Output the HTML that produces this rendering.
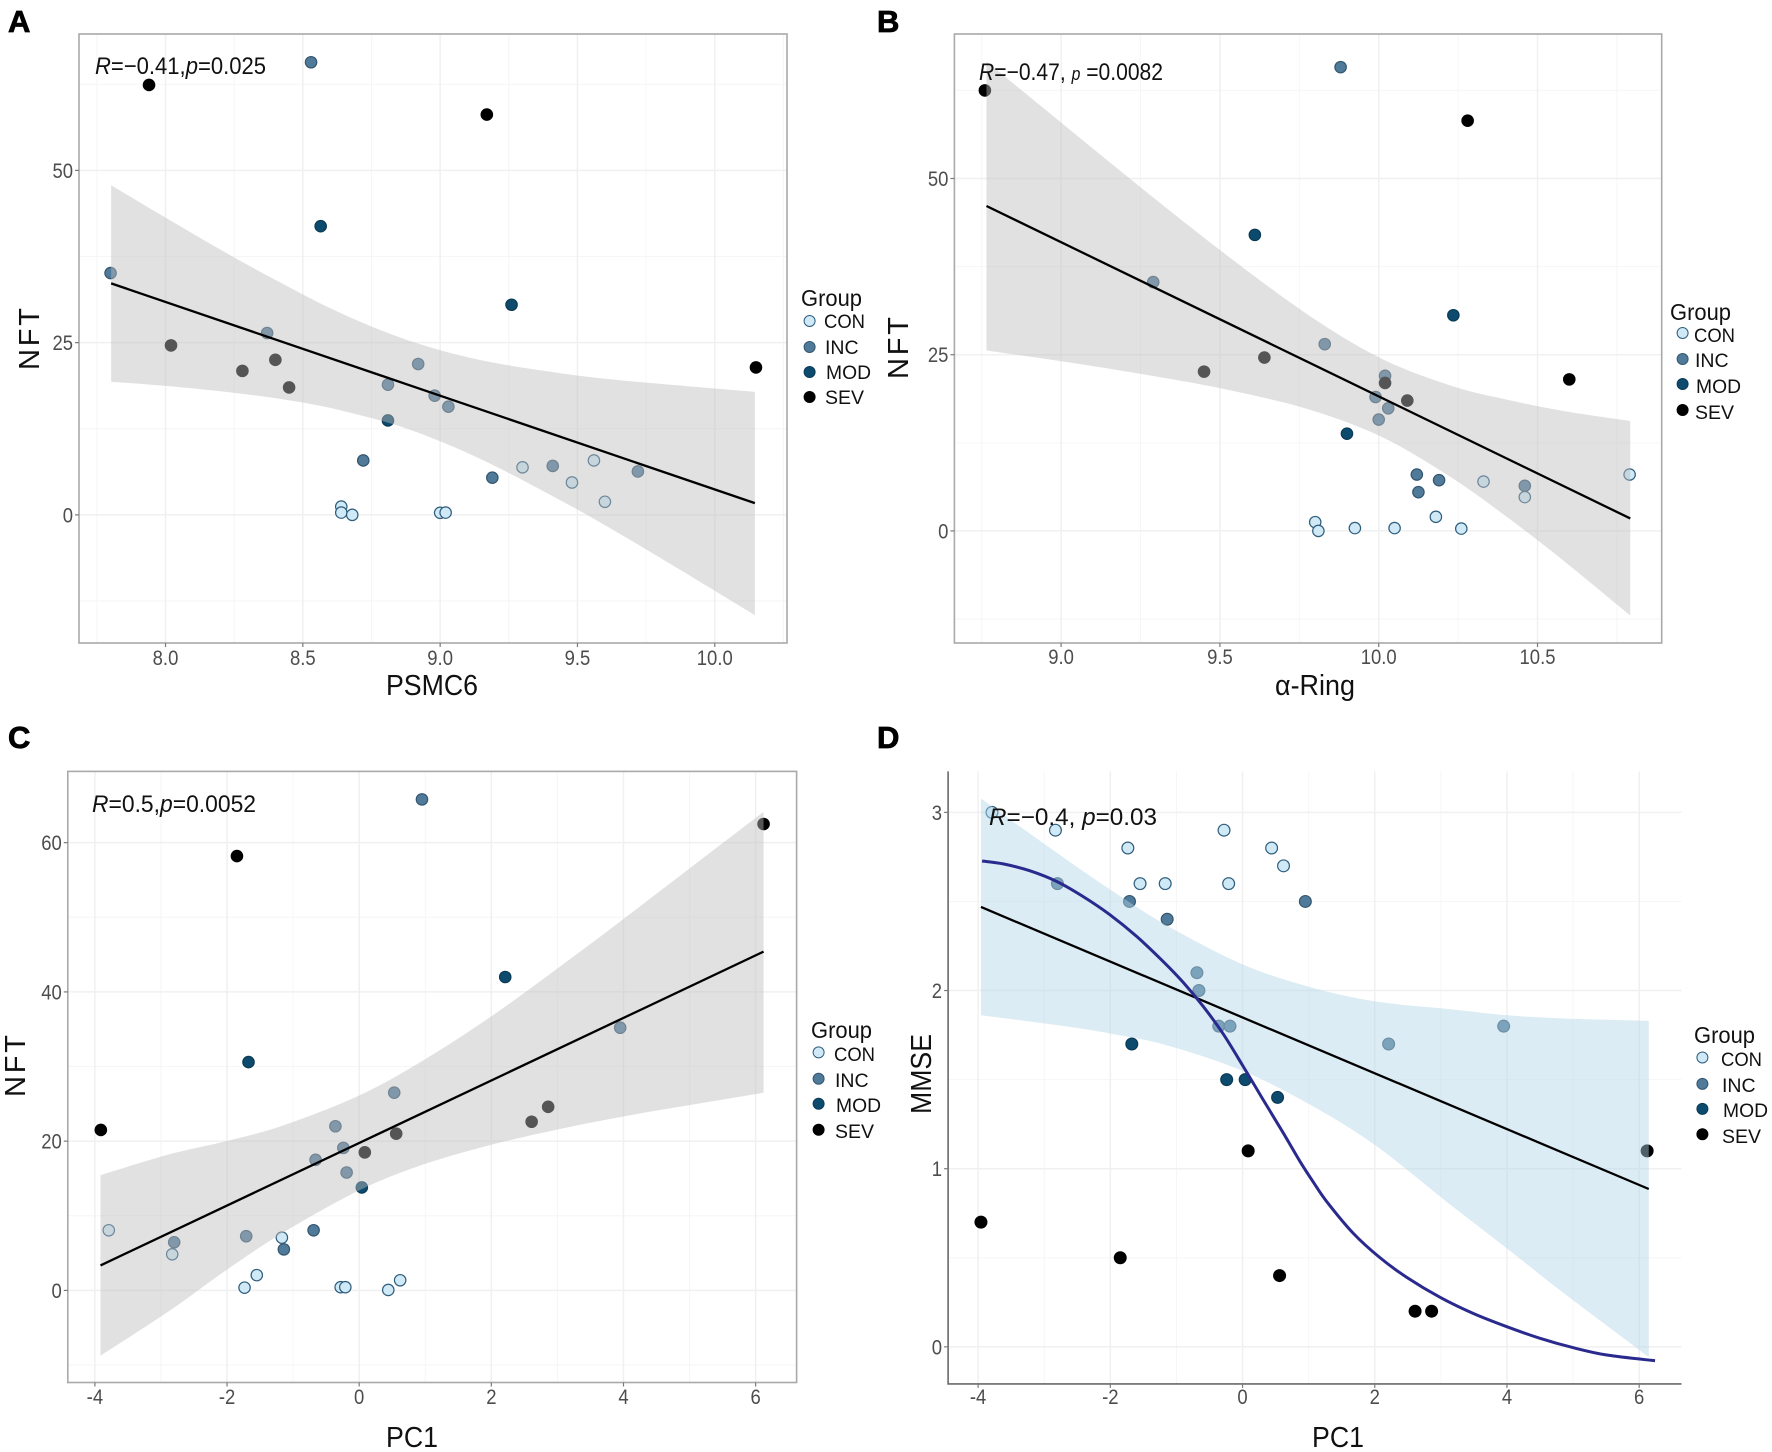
<!DOCTYPE html>
<html lang="en">
<head>
<meta charset="utf-8">
<title>NFT and MMSE correlation panels</title>
<style>
html,body{margin:0;padding:0;background:#fff;}
svg{display:block;}
text{font-family:"Liberation Sans",Arial,sans-serif;}
.tag{font-size:31px;font-weight:bold;fill:#000;stroke:#000;stroke-width:.8px;}
.axt{font-size:29px;fill:#111;}
.lgt{font-size:23px;fill:#111;}
.lgl{font-size:19.5px;fill:#111;}
.ann{font-size:24px;fill:#111;}
.ann tspan.i{font-style:italic;}
.tick{font-size:21px;fill:#4d4d4d;}
</style>
</head>
<body>
<svg id="figure" xmlns="http://www.w3.org/2000/svg" width="1772" height="1452" viewBox="0 0 1772 1452">
<rect width="1772" height="1452" fill="#fff"/>

<g id="panel-a">
  <g id="marks-a"></g>
  <text class="ann" x="95" y="74" textLength="171" lengthAdjust="spacingAndGlyphs"><tspan class="i">R</tspan>=−0.41,<tspan class="i">p</tspan>=0.025</text>
  <text class="tag" x="8" y="32">A</text>
  <text class="axt" x="432" y="695" text-anchor="middle" textLength="92" lengthAdjust="spacingAndGlyphs">PSMC6</text>
  <text class="axt" transform="translate(39,339) rotate(-90)" text-anchor="middle" textLength="62" lengthAdjust="spacing">NFT</text>
  <g>
    <text class="lgt" x="801" y="306" textLength="61" lengthAdjust="spacingAndGlyphs">Group</text>
    <circle cx="809.6" cy="321" r="5.5" fill="#cfe9f7" stroke="#2f5d7c"/>
    <text class="lgl" x="824" y="328" textLength="41" lengthAdjust="spacingAndGlyphs">CON</text>
    <circle cx="809.6" cy="347" r="5.5" fill="#4f7a9a" stroke="#35566f"/>
    <text class="lgl" x="825" y="354">INC</text>
    <circle cx="809.6" cy="372" r="5.5" fill="#0d4b6e" stroke="#0a3a55"/>
    <text class="lgl" x="826" y="379" textLength="45" lengthAdjust="spacingAndGlyphs">MOD</text>
    <circle cx="809.6" cy="397" r="5.5" fill="#000" stroke="#000"/>
    <text class="lgl" x="825" y="404">SEV</text>
  </g>
</g>

<g id="panel-b">
  <g id="marks-b"></g>
  <text class="ann" x="979" y="80" textLength="184" lengthAdjust="spacingAndGlyphs"><tspan class="i">R</tspan>=−0.47, <tspan class="i" font-size="18">p</tspan> =0.0082</text>
  <text class="tag" x="877" y="32">B</text>
  <text class="axt" x="1315" y="695" text-anchor="middle" textLength="80" lengthAdjust="spacingAndGlyphs">α-Ring</text>
  <text class="axt" transform="translate(908,348) rotate(-90)" text-anchor="middle" textLength="62" lengthAdjust="spacing">NFT</text>
  <g>
    <text class="lgt" x="1670" y="320" textLength="61" lengthAdjust="spacingAndGlyphs">Group</text>
    <circle cx="1682.6" cy="333" r="5.5" fill="#cfe9f7" stroke="#2f5d7c"/>
    <text class="lgl" x="1694" y="342" textLength="41" lengthAdjust="spacingAndGlyphs">CON</text>
    <circle cx="1682.6" cy="359" r="5.5" fill="#4f7a9a" stroke="#35566f"/>
    <text class="lgl" x="1695" y="367">INC</text>
    <circle cx="1682.6" cy="384" r="5.5" fill="#0d4b6e" stroke="#0a3a55"/>
    <text class="lgl" x="1696" y="393" textLength="45" lengthAdjust="spacingAndGlyphs">MOD</text>
    <circle cx="1682.6" cy="410" r="5.5" fill="#000" stroke="#000"/>
    <text class="lgl" x="1695" y="419">SEV</text>
  </g>
</g>

<g id="panel-c">
  <g id="marks-c"></g>
  <text class="ann" x="92" y="812" textLength="164" lengthAdjust="spacingAndGlyphs"><tspan class="i">R</tspan>=0.5,<tspan class="i">p</tspan>=0.0052</text>
  <text class="tag" x="8" y="748">C</text>
  <text class="axt" x="412" y="1447" text-anchor="middle" textLength="52" lengthAdjust="spacingAndGlyphs">PC1</text>
  <text class="axt" transform="translate(25,1066) rotate(-90)" text-anchor="middle" textLength="62" lengthAdjust="spacing">NFT</text>
  <g>
    <text class="lgt" x="811" y="1038" textLength="61" lengthAdjust="spacingAndGlyphs">Group</text>
    <circle cx="818.6" cy="1052.4" r="5.5" fill="#cfe9f7" stroke="#2f5d7c"/>
    <text class="lgl" x="834" y="1061" textLength="41" lengthAdjust="spacingAndGlyphs">CON</text>
    <circle cx="818.6" cy="1078.8" r="5.5" fill="#4f7a9a" stroke="#35566f"/>
    <text class="lgl" x="835" y="1087">INC</text>
    <circle cx="818.6" cy="1103.8" r="5.5" fill="#0d4b6e" stroke="#0a3a55"/>
    <text class="lgl" x="836" y="1112" textLength="45" lengthAdjust="spacingAndGlyphs">MOD</text>
    <circle cx="818.6" cy="1129.7" r="5.5" fill="#000" stroke="#000"/>
    <text class="lgl" x="835" y="1138">SEV</text>
  </g>
</g>

<g id="panel-d">
  <g id="marks-d"></g>
  <text class="ann" x="989" y="825" textLength="168" lengthAdjust="spacingAndGlyphs"><tspan class="i">R</tspan>=−0.4, <tspan class="i">p</tspan>=0.03</text>
  <text class="tag" x="877" y="748">D</text>
  <text class="axt" x="1338" y="1447" text-anchor="middle" textLength="52" lengthAdjust="spacingAndGlyphs">PC1</text>
  <text class="axt" transform="translate(931,1074) rotate(-90)" text-anchor="middle" textLength="80" lengthAdjust="spacingAndGlyphs">MMSE</text>
  <g>
    <text class="lgt" x="1694" y="1043" textLength="61" lengthAdjust="spacingAndGlyphs">Group</text>
    <circle cx="1702.4" cy="1057.5" r="5.5" fill="#cfe9f7" stroke="#2f5d7c"/>
    <text class="lgl" x="1721" y="1066" textLength="41" lengthAdjust="spacingAndGlyphs">CON</text>
    <circle cx="1702.4" cy="1083.9" r="5.5" fill="#4f7a9a" stroke="#35566f"/>
    <text class="lgl" x="1722" y="1092">INC</text>
    <circle cx="1702.4" cy="1108.9" r="5.5" fill="#0d4b6e" stroke="#0a3a55"/>
    <text class="lgl" x="1723" y="1117" textLength="45" lengthAdjust="spacingAndGlyphs">MOD</text>
    <circle cx="1702.4" cy="1134.3" r="5.5" fill="#000" stroke="#000"/>
    <text class="lgl" x="1722" y="1143">SEV</text>
  </g>
</g>
</svg>

<script>
/* ---------- data ---------- */
const groupsNft = ["CON","CON","CON","CON","CON","CON","CON","CON","CON","INC","INC","INC","INC","INC","INC","INC","INC","INC","INC","INC","MOD","MOD","MOD","SEV","SEV","SEV","SEV","SEV","SEV","SEV"];
const groupsMmse = ["CON","CON","CON","CON","CON","CON","CON","CON","CON","INC","INC","INC","INC","INC","INC","INC","INC","INC","INC","MOD","MOD","MOD","MOD","SEV","SEV","SEV","SEV","SEV","SEV","SEV"];

const psmc6 = [8.64,8.64,8.68,9.0,9.02,9.30,9.48,9.56,9.60, 8.53,7.80,8.37,8.92,8.81,8.98,9.03,8.72,9.19,9.41,9.72, 8.565,9.26,8.81, 7.94,9.17,10.15,8.02,8.28,8.40,8.45];
const nftA = [1.2,0.33,0,0.3,0.33,6.9,4.7,7.9,1.9, 65.7,35.1,26.4,21.9,18.9,17.3,15.7,7.9,5.4,7.1,6.3, 41.9,30.5,13.7, 62.4,58.1,21.4,24.6,20.9,22.5,18.5];

const ring = [9.80,9.81,9.925,10.05,10.18,10.26,10.33,10.46,10.79, 9.88,9.29,9.83,10.02,9.99,10.03,10.0,10.12,10.125,10.19,10.46, 9.61,10.235,9.90, 8.76,10.28,10.60,9.64,9.45,10.02,10.09];
const nftB = [1.25,0,0.4,0.4,2.0,0.33,7.0,4.8,8.0, 65.8,35.3,26.5,22,19,17.4,15.8,8,5.5,7.2,6.4, 42,30.6,13.8, 62.5,58.2,21.5,24.6,22.6,21,18.5];

const pc1C = [-1.735,-1.55,-0.28,-0.21,0.44,0.62,-3.79,-2.83,-1.17, 0.95,3.95,0.53,-0.36,-0.24,-0.66,-0.19,-0.69,-1.14,-1.71,-2.80, 2.21,-1.675,0.04, -3.91,-1.85,6.12,2.86,2.61,0.56,0.085];
const nftC = [0.37,2.05,0.43,0.43,0.06,1.36,8.06,4.84,7.07, 65.8,35.2,26.5,22,19.1,17.5,15.8,8.06,5.5,7.26,6.45, 42,30.6,13.8, 21.5,58.2,62.5,24.6,22.6,21,18.5];

const pc1D = [-3.79,-2.83,-1.735,-1.55,-1.17,-0.28,-0.21,0.44,0.62, -2.80,-1.71,-1.14,0.95,-0.69,-0.66,-0.36,-0.19,2.21,3.95, -1.675,-0.24,0.04,0.53, -3.957,-1.85,0.085,0.56,2.61,2.86,6.12];
const mmseD = [3.0,2.9,2.8,2.6,2.6,2.9,2.6,2.8,2.7, 2.6,2.5,2.4,2.5,2.1,2.0,1.8,1.8,1.7,1.8, 1.7,1.5,1.5,1.4, 0.7,0.5,1.1,0.4,0.2,0.2,1.1];

/* confidence bands and fits */
const bandXA = [7.802,8,8.22,8.426,8.632,8.881,9.146,9.455,9.66,9.866,10.146];
const bandUpA = [47.85,43.15,38.05,33.56,29.4,25.37,22.48,20.47,19.53,18.79,17.85];
const bandLoA = [19.33,18.72,17.85,16.78,15.23,12.48,8.12,1.74,-2.89,-7.79,-14.56];
const fitXA = [7.802,10.146];
const fitYA = [33.6,1.7];

const bandXB = [8.765,8.982,9.249,9.516,9.783,10.011,10.228,10.406,10.584,10.792];
const bandUpB = [66.6,58.6,48.8,39.3,30.5,24.4,20.6,18.6,17.0,15.6];
const bandLoB = [25.6,24.2,22.3,20.1,17.2,13.3,7.6,1.9,-4.3,-12.0];
const fitXB = [8.765,10.792];
const fitYB = [46.1,1.77];

const bandXC = [-3.915,-2.87,-2.02,-1.16,0,0.97,2.01,3.11,3.97,4.82,6.12];
const bandUpC = [15.45,18.24,19.98,22.08,26.12,30.83,36.79,43.86,49.57,55.33,64.14];
const bandLoC = [-8.75,-2.73,2.67,7.69,13.4,16.87,19.54,21.77,23.26,24.57,26.49];
const fitXC = [-3.915,6.12];
const fitYC = [3.35,45.4];

const bandXD = [-3.957,-2.83,-1.974,-1.12,0,1.017,2.009,3.154,4.008,4.863,6.145];
const bandUpD = [3.078,2.779,2.56,2.36,2.147,2.02,1.939,1.895,1.861,1.843,1.83];
const bandLoD = [1.861,1.807,1.757,1.69,1.549,1.36,1.131,0.795,0.55,0.30,-0.057];
const fitXD = [-3.957,6.145];
const fitYD = [2.469,0.886];
const curveXD = [-3.94,-3.62,-3.215,-2.81,-2.41,-2.005,-1.60,-1.198,-0.896,-0.593,-0.29,0.012,0.315,0.617,0.87,1.07,1.274,1.676,2.08,2.484,2.988,3.492,3.997,4.5,5.004,5.51,6.24];
const curveYD = [2.727,2.711,2.672,2.612,2.527,2.425,2.303,2.162,2.045,1.91,1.755,1.573,1.385,1.2,1.04,0.925,0.815,0.637,0.5,0.39,0.278,0.187,0.113,0.048,-0.005,-0.046,-0.078];

/* axis ticks */
const xTicksA = [8,8.5,9,9.5,10];
const xTickLabelsA = ["8.0","8.5","9.0","9.5","10.0"];
const xMinorA = [7.75,8.25,8.75,9.25,9.75,10.25];
const yTicksNft25 = [0,25,50];
const yTickLabelsNft25 = ["0","25","50"];
const yMinorNft25 = [-12.5,12.5,37.5,62.5];
const xTicksB = [9,9.5,10,10.5];
const xTickLabelsB = ["9.0","9.5","10.0","10.5"];
const xMinorB = [8.75,9.25,9.75,10.25,10.75];
const xTicksPc = [-4,-2,0,2,4,6];
const xTickLabelsPc = ["-4","-2","0","2","4","6"];
const xMinorPc = [-3,-1,1,3,5];
const yTicksC = [0,20,40,60];
const yTickLabelsC = ["0","20","40","60"];
const yMinorC = [-10,10,30,50];
const yTicksD = [0,1,2,3];
const yTickLabelsD = ["0","1","2","3"];
const yMinorD = [0.5,1.5,2.5];

/* ---------- drawing ---------- */
const NS = "http://www.w3.org/2000/svg";
const groupFill = {CON:"#cfe9f7",INC:"#4f7a9a",MOD:"#0d4b6e",SEV:"#000000"};
const groupStroke = {CON:"#2f5d7c",INC:"#35566f",MOD:"#0a3a55",SEV:"#000000"};

function linear(d0,d1,r0,r1){ return v => r0+(v-d0)*(r1-r0)/(d1-d0); }

function smooth(pts, move){
  let s = (move?"M":"L")+pts[0][0].toFixed(2)+" "+pts[0][1].toFixed(2);
  for(let i=0;i<pts.length-1;i++){
    const p0=pts[Math.max(i-1,0)],p1=pts[i],p2=pts[i+1],p3=pts[Math.min(i+2,pts.length-1)];
    const c1x=p1[0]+(p2[0]-p0[0])/6,c1y=p1[1]+(p2[1]-p0[1])/6;
    const c2x=p2[0]-(p3[0]-p1[0])/6,c2y=p2[1]-(p3[1]-p1[1])/6;
    s+="C"+c1x.toFixed(2)+" "+c1y.toFixed(2)+" "+c2x.toFixed(2)+" "+c2y.toFixed(2)+" "+p2[0].toFixed(2)+" "+p2[1].toFixed(2);
  }
  return s;
}

function mk(tag,parent,attrs){
  const e=document.createElementNS(NS,tag);
  for(const k in attrs) e.setAttribute(k,attrs[k]);
  parent.appendChild(e);
  return e;
}

function squeeze(t){
  const len=t.getComputedTextLength();
  if(len>0){
    t.setAttribute("textLength",(len*0.88).toFixed(2));
    t.setAttribute("lengthAdjust","spacingAndGlyphs");
  }
}

function drawPanel(cfg){
  const root=document.getElementById(cfg.id);
  const sx=linear(cfg.xd[0],cfg.xd[1],cfg.left,cfg.right);
  const sy=linear(cfg.yd[0],cfg.yd[1],cfg.bottom,cfg.top);

  cfg.xMinor.forEach(v=>{
    const g=mk("line",root,{x1:sx(v),x2:sx(v),y1:cfg.top,y2:cfg.bottom,stroke:"#f6f6f6","stroke-width":1});
    
    
  });
  cfg.yMinor.forEach(v=>{
    const g=mk("line",root,{x1:cfg.left,x2:cfg.right,y1:sy(v),y2:sy(v),stroke:"#f6f6f6","stroke-width":1});
    
    
  });
  cfg.xTicks.forEach(v=>{
    const g=mk("line",root,{x1:sx(v),x2:sx(v),y1:cfg.top,y2:cfg.bottom,stroke:"#f0f0f0","stroke-width":1.5});
    
    
  });
  cfg.yTicks.forEach(v=>{
    const g=mk("line",root,{x1:cfg.left,x2:cfg.right,y1:sy(v),y2:sy(v),stroke:"#f0f0f0","stroke-width":1.5});
    
    
  });

  cfg.px.forEach((v,i)=>{
    const g=cfg.groups[i];
    const c=mk("circle",root,{cx:sx(v),cy:sy(cfg.py[i]),r:cfg.r,fill:groupFill[g],stroke:groupStroke[g],"stroke-width":1.2});
    
    
  });

  const upper=cfg.bandX.map((v,i)=>[sx(v),sy(cfg.bandUp[i])]);
  const lower=cfg.bandX.map((v,i)=>[sx(v),sy(cfg.bandLo[i])]).reverse();
  const band=mk("path",root,{d:smooth(upper,true)+smooth(lower,false)+"Z",fill:cfg.bandFill,"fill-opacity":0.45});
  
  

  const fit=mk("line",root,{x1:sx(cfg.fitX[0]),y1:sy(cfg.fitY[0]),x2:sx(cfg.fitX[1]),y2:sy(cfg.fitY[1]),stroke:"#000","stroke-width":2.3});
  
  

  if(cfg.curveX){
    const cp=cfg.curveX.map((v,i)=>[sx(v),sy(cfg.curveY[i])]);
    const cur=mk("path",root,{d:smooth(cp,true),fill:"none",stroke:"#2a2a8e","stroke-width":3});
    
    
  }

  if(cfg.frame){
    const fr=mk("rect",root,{x:cfg.left,y:cfg.top,width:cfg.right-cfg.left,height:cfg.bottom-cfg.top,fill:"none",stroke:"#a9a9a9","stroke-width":1.6});
    
    
  } else {
    const ax=mk("path",root,{d:"M"+cfg.left+" "+cfg.top+"V"+cfg.bottom+"H"+cfg.right,fill:"none",stroke:"#6a6a6a","stroke-width":1.6});
    
    
  }

  cfg.xTicks.forEach((v,i)=>{
    const t=mk("line",root,{x1:sx(v),x2:sx(v),y1:cfg.bottom,y2:cfg.bottom+4,stroke:"#7a7a7a","stroke-width":1.2});
    
    
    const l=mk("text",root,{x:sx(v),y:cfg.xLabelY,"text-anchor":"middle","class":"tick"});
    
    
    l.textContent=cfg.xLabels[i];
    squeeze(l);
  });
  cfg.yTicks.forEach((v,i)=>{
    const t=mk("line",root,{x1:cfg.left-4,x2:cfg.left,y1:sy(v),y2:sy(v),stroke:"#7a7a7a","stroke-width":1.2});
    
    
    const l=mk("text",root,{x:cfg.left-6,y:sy(v)+7.5,"text-anchor":"end","class":"tick"});
    
    
    l.textContent=cfg.yLabels[i];
    squeeze(l);
  });
}

drawPanel({id:"marks-a",left:79,right:787,top:34,bottom:643,xd:[7.685,10.263],yd:[-18.6,69.8],frame:true,r:5.7,xLabelY:665,
  groups:groupsNft,px:psmc6,py:nftA,bandX:bandXA,bandUp:bandUpA,bandLo:bandLoA,bandFill:"#bdbdbd",fitX:fitXA,fitY:fitYA,
  xTicks:xTicksA,xLabels:xTickLabelsA,xMinor:xMinorA,yTicks:yTicksNft25,yLabels:yTickLabelsNft25,yMinor:yMinorNft25});
drawPanel({id:"marks-b",left:954.4,right:1661.7,top:34,bottom:643,xd:[8.664,10.891],yd:[-15.9,70.5],frame:true,r:5.7,xLabelY:664,
  groups:groupsNft,px:ring,py:nftB,bandX:bandXB,bandUp:bandUpB,bandLo:bandLoB,bandFill:"#bdbdbd",fitX:fitXB,fitY:fitYB,
  xTicks:xTicksB,xLabels:xTickLabelsB,xMinor:xMinorB,yTicks:yTicksNft25,yLabels:yTickLabelsNft25,yMinor:yMinorNft25});
drawPanel({id:"marks-c",left:67.8,right:796.6,top:771.4,bottom:1382.5,xd:[-4.41,6.62],yd:[-12.34,69.55],frame:true,r:5.7,xLabelY:1404,
  groups:groupsNft,px:pc1C,py:nftC,bandX:bandXC,bandUp:bandUpC,bandLo:bandLoC,bandFill:"#bdbdbd",fitX:fitXC,fitY:fitYC,
  xTicks:xTicksPc,xLabels:xTickLabelsPc,xMinor:xMinorPc,yTicks:yTicksC,yLabels:yTickLabelsC,yMinor:yMinorC});
drawPanel({id:"marks-d",left:948.1,right:1681.5,top:771.4,bottom:1383.9,xd:[-4.454,6.64],yd:[-0.208,3.23],frame:false,r:5.9,xLabelY:1404,
  groups:groupsMmse,px:pc1D,py:mmseD,bandX:bandXD,bandUp:bandUpD,bandLo:bandLoD,bandFill:"#b2d5e7",fitX:fitXD,fitY:fitYD,
  curveX:curveXD,curveY:curveYD,
  xTicks:xTicksPc,xLabels:xTickLabelsPc,xMinor:xMinorPc,yTicks:yTicksD,yLabels:yTickLabelsD,yMinor:yMinorD});
</script>
</body>
</html>
